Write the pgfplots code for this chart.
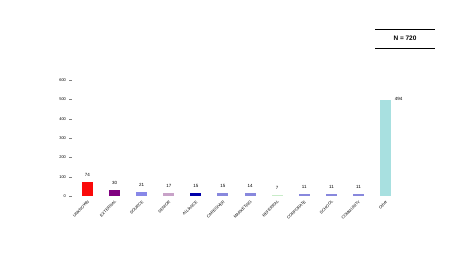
\documentclass[border=0pt]{standalone}
\usepackage{fontspec}
\setmainfont{Liberation Sans}
\usepackage{pgfplots}
\pgfplotsset{compat=1.18}
\definecolor{cRed}{RGB}{250,10,10}
\definecolor{cPurple}{RGB}{128,0,128}
\definecolor{cBlue3}{RGB}{136,136,232}
\definecolor{cThistle}{RGB}{200,162,200}
\definecolor{cNavy}{RGB}{0,0,170}
\definecolor{cSlate}{RGB}{136,136,221}
\definecolor{cGreen}{RGB}{200,236,200}
\definecolor{cTurq}{RGB}{168,224,224}
\begin{document}
\begin{tikzpicture}
\useasboundingbox (0pt,0pt) rectangle (465pt,258pt);
\begin{axis}[
  at={(72pt,62pt)}, anchor=south west,
  scale only axis, width=328pt, height=116pt,
  xmin=-0.57, xmax=11.53, ymin=0, ymax=600,
  /pgf/number format/assume math mode=true,
  axis line style={draw=none},
  ytick={0,100,...,600},
  yticklabel style={font=\fontsize{4}{4}\selectfont},
  xtick={0,...,11},
  xticklabels={UNKNOWN,EXTERNAL,SOURCE,SENIOR,ALLIANCE,CAREGIVER,MARKETING,REFERRAL,CORPORATE,SCHOOL,COMMUNITY,Other},
  x tick label style={font=\fontsize{4}{4}\selectfont, rotate=45, anchor=north east, inner sep=1pt},
  minor xtick={0.5,1.5,...,10.5},
  tick pos=left, tick align=outside,
  major tick length=2.5pt,
  x tick style={draw=none},
  minor tick length=2pt,
  every minor tick/.style={black},
  ybar, bar width=11pt, bar shift=0pt,
  nodes near coords,
  nodes near coords style={font=\fontsize{4.5}{5}\selectfont, anchor=south, yshift=2pt},
  every axis plot/.append style={draw=none},
]
\addplot[fill=cRed] coordinates {(0,74)};
\addplot[fill=cPurple] coordinates {(1,30)};
\addplot[fill=cBlue3] coordinates {(2,21)};
\addplot[fill=cThistle] coordinates {(3,17)};
\addplot[fill=cNavy] coordinates {(4,15)};
\addplot[fill=cSlate] coordinates {(5,15)};
\addplot[fill=cSlate] coordinates {(6,14)};
\addplot[fill=cGreen] coordinates {(7,7)};
\addplot[fill=cSlate] coordinates {(8,11)};
\addplot[fill=cSlate] coordinates {(9,11)};
\addplot[fill=cSlate] coordinates {(10,11)};
\addplot[fill=cTurq, nodes near coords style={xshift=13pt, yshift=-6pt}] coordinates {(11,494)};
\end{axis}
\draw[line width=0.6pt] (375pt,229pt) -- (435pt,229pt);
\draw[line width=0.6pt] (375pt,210pt) -- (435pt,210pt);
\node[font=\fontsize{6.5}{7}\selectfont\bfseries] at (405pt,219.5pt) {N = 720};
\end{tikzpicture}
\end{document}
